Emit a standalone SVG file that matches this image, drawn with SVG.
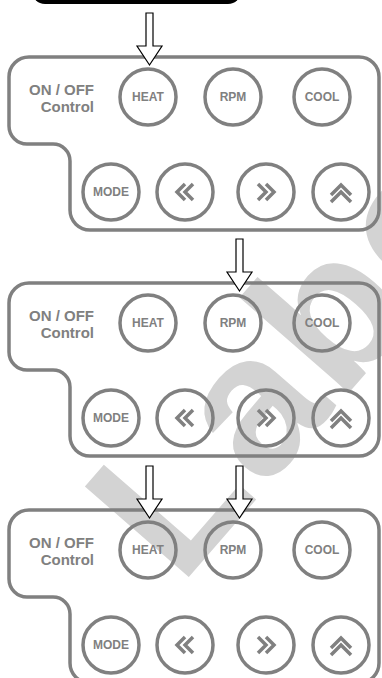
<svg xmlns="http://www.w3.org/2000/svg" width="382" height="678" viewBox="0 0 382 678">
<defs>
<style>
.panel{fill:none;stroke:#808080;stroke-width:3.5}
.btn{fill:none;stroke:#808080;stroke-width:3.5}
.lbl{font-family:"Liberation Sans",Arial,sans-serif;font-weight:bold;font-size:12px;fill:#808080;text-anchor:middle}
.ctl{font-family:"Liberation Sans",Arial,sans-serif;font-weight:bold;font-size:15px;fill:#808080;text-anchor:end}
.ico{fill:none;stroke:#808080;stroke-width:3.5;stroke-linejoin:miter}
.arr{fill:#ffffff;stroke:#000000;stroke-width:1.2;stroke-linejoin:miter}
.wm{font-family:"Liberation Sans",Arial,sans-serif;font-weight:bold;font-size:200px;fill:#d3d3d3}
</style>
<path id="outline" d="M29,0 H359 A20,20 0 0 1 379,20 V153 A20,20 0 0 1 359,173 H90 A20,20 0 0 1 70,153 V104 A17,17 0 0 0 53,87 H27 A18,18 0 0 1 9,69 V20 A20,20 0 0 1 29,0 Z"/>
<g id="panelContent">
<use href="#outline" class="panel"/>
<text class="ctl" x="94" y="38">ON / OFF</text>
<text class="ctl" x="94" y="55">Control</text>
<g><circle class="btn" cx="148" cy="40" r="28"/><text class="lbl" x="148" y="44.3">HEAT</text></g>
<g><circle class="btn" cx="233" cy="40" r="28"/><text class="lbl" x="233" y="44.3">RPM</text></g>
<g><circle class="btn" cx="322" cy="40" r="28"/><text class="lbl" x="322" y="44.3">COOL</text></g>
<g><circle class="btn" cx="111" cy="135" r="28"/><text class="lbl" x="111" y="139.3">MODE</text></g>
<g><circle class="btn" cx="185" cy="135" r="28"/><path class="ico" d="M185,127 L177,135 L185,143 M193,127 L185,135 L193,143"/></g>
<g><circle class="btn" cx="266" cy="135" r="28"/><path class="ico" d="M266,127 L274,135 L266,143 M258,127 L266,135 L258,143"/></g>
<g><circle class="btn" cx="341" cy="135" r="28"/><path class="ico" d="M331,138 L341,128 L351,138 M331,145 L341,135 L351,145"/></g>
</g>
</defs>
<text id="watermark" class="wm" transform="translate(180,587) rotate(-49)" letter-spacing="5">Label</text>
<g id="header"><rect x="32" y="-30" width="209" height="34" rx="13" fill="#000000"/></g>
<g id="panel1" transform="translate(0,57)"><use href="#panelContent"/></g>
<g id="panel2" transform="translate(0,283)"><use href="#panelContent"/></g>
<g id="panel3" transform="translate(0,510)"><use href="#panelContent"/></g>
<g id="connectors">
<path class="arr" d="M146,13 H153 V46 H162 L149.5,65 L137,46 H146 Z"/>
<path class="arr" d="M236,239 H243 V272 H252 L239.5,291 L227,272 H236 Z"/>
<path class="arr" d="M146,466 H153 V499 H162 L149.5,518 L137,499 H146 Z"/>
<path class="arr" d="M236,466 H243 V499 H252 L239.5,518 L227,499 H236 Z"/>
</g>
</svg>
